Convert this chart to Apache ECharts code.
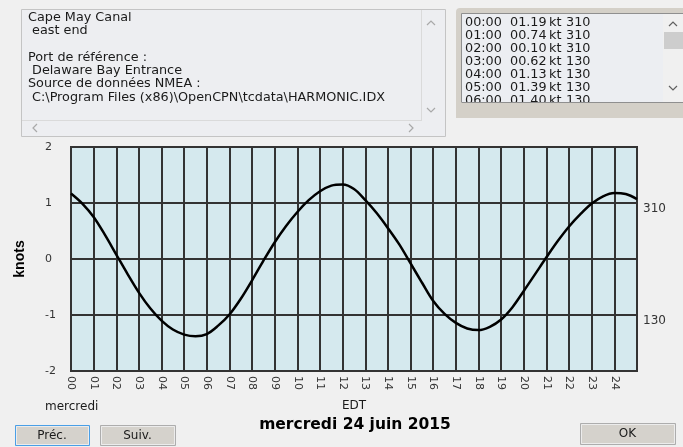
<!DOCTYPE html>
<html>
<head>
<meta charset="utf-8">
<script src="https://cdn.jsdelivr.net/npm/echarts@6/dist/echarts.min.js"></script>
<style>
  html, body { margin: 0; padding: 0; background: #f0f0f0; }
  #chart { width: 683px; height: 447px; }
</style>
</head>
<body>
<div id="chart"></div>
<script>
// courant (noeuds) toutes les demi-heures, + = 310, - = 130
const hours = [0, 0.5, 1, 1.5, 2, 2.5, 3, 3.5, 4, 4.5, 5, 5.5, 6, 6.5, 7, 7.5, 8, 8.5, 9, 9.5, 10, 10.5,
  11, 11.5, 12, 12.5, 13, 13.5, 14, 14.5, 15, 15.5, 16, 16.5, 17, 17.5, 18, 18.5, 19, 19.5, 20, 20.5,
  21, 21.5, 22, 22.5, 23, 23.5, 24, 24.5, 25];
const knots = [1.17, 0.99, 0.75, 0.43, 0.08, -0.27, -0.60, -0.88, -1.10, -1.26, -1.35, -1.38, -1.34,
  -1.19, -0.99, -0.71, -0.38, -0.03, 0.30, 0.59, 0.84, 1.05, 1.21, 1.31, 1.33, 1.25, 1.05, 0.82,
  0.55, 0.26, -0.08, -0.42, -0.75, -0.98, -1.14, -1.24, -1.27, -1.21, -1.08, -0.86, -0.57, -0.27,
  0.03, 0.32, 0.58, 0.80, 0.99, 1.12, 1.18, 1.16, 1.07];
const hourLabels = ['00', '01', '02', '03', '04', '05', '06', '07', '08', '09', '10', '11', '12',
  '13', '14', '15', '16', '17', '18', '19', '20', '21', '22', '23', '24'];
const dirValues = [1, -1];
const dirLabels = ['310', '130'];

// texte du panneau d'info et de la liste
const infoLines = ['Cape May Canal', ' east end', '', 'Port de référence :', ' Delaware Bay Entrance',
  'Source de données NMEA :', ' C:\\Program Files (x86)\\OpenCPN\\tcdata\\HARMONIC.IDX'];
const tableTimes = ['00:00', '01:00', '02:00', '03:00', '04:00', '05:00', '06:00'];
const tableSpeeds = ['01.19', '00.74', '00.10', '00.62', '01.13', '01.39', '01.40'];
const tableDirs = ['310', '310', '310', '130', '130', '130', '130'];

const FONT = 'DejaVu Sans';
const TXT = '#1a1a1a';

function txt(text, x, y, size, opts) {
  opts = opts || {};
  return {
    type: 'text', z: opts.z || 10,
    style: {
      text: text, x: x, y: y,
      font: (opts.weight || 'normal') + ' ' + size + 'px ' + (opts.family || FONT),
      fill: opts.color || TXT,
      textAlign: opts.align || 'left', align: opts.align || 'left',
      textVerticalAlign: 'middle', verticalAlign: 'middle'
    }
  };
}
function chevron(pts, color) {
  return { type: 'polyline', z: 10, shape: { points: pts }, style: { stroke: color, lineWidth: 1.2, fill: null } };
}
function button(x, y, w, h, label, border) {
  return [
    { type: 'rect', z: 8, shape: { x: x + 0.5, y: y + 0.5, width: w, height: h }, style: { fill: '#d5d2cc', stroke: border, lineWidth: 1 } },
    { type: 'rect', z: 9, shape: { x: x + 1.5, y: y + 1.5, width: w - 2, height: h - 2 }, style: { fill: null, stroke: '#ececec', lineWidth: 1 } },
    txt(label, x + w / 2, y + h / 2 + 0.5, 12, { align: 'center' })
  ];
}

const graphics = [];
// panneau d'info en haut a gauche
graphics.push({ type: 'rect', z: 5, shape: { x: 21.5, y: 9.5, width: 424, height: 127 }, style: { fill: '#edeef1', stroke: '#c4c4c4', lineWidth: 1 } });
graphics.push({ type: 'line', z: 6, shape: { x1: 22, y1: 120.5, x2: 422, y2: 120.5 }, style: { stroke: '#dadada' } });
graphics.push({ type: 'line', z: 6, shape: { x1: 421.5, y1: 10, x2: 421.5, y2: 121 }, style: { stroke: '#dadada' } });
graphics.push(chevron([[427, 25], [431, 21], [435, 25]], '#a9a9a9'));
graphics.push(chevron([[427, 108], [431, 112], [435, 108]], '#a9a9a9'));
graphics.push(chevron([[37, 124], [33, 128], [37, 132]], '#a9a9a9'));
graphics.push(chevron([[409, 124], [413, 128], [409, 132]], '#a9a9a9'));
infoLines.forEach((l, i) => graphics.push(txt(l, 28, 17.5 + i * 13.3, 12.8)));

// liste des heures en haut a droite
graphics.push({ type: 'rect', z: 4, shape: { x: 456, y: 8, width: 240, height: 110, r: 4 }, style: { fill: '#d4d0c8' } });
graphics.push({ type: 'rect', z: 5, shape: { x: 461.5, y: 13.5, width: 240, height: 89 }, style: { fill: '#eceef2', stroke: '#8f8f8f', lineWidth: 1 } });
tableTimes.forEach((t, i) => {
  const y = 23 + i * 13;
  graphics.push(txt(t, 465, y, 12.8));
  graphics.push(txt(tableSpeeds[i], 510, y, 12.8));
  graphics.push(txt('kt', 549, y, 12.8));
  graphics.push(txt(tableDirs[i], 566, y, 12.8));
});
// cache la ligne coupee sous la liste
graphics.push({ type: 'rect', z: 12, shape: { x: 456, y: 102, width: 240, height: 16 }, style: { fill: '#d4d0c8' } });
graphics.push({ type: 'line', z: 13, shape: { x1: 461.5, y1: 102.5, x2: 683, y2: 102.5 }, style: { stroke: '#8f8f8f' } });
graphics.push({ type: 'rect', z: 11, shape: { x: 663, y: 14, width: 20, height: 88 }, style: { fill: '#f0f0f0' } });
graphics.push({ type: 'rect', z: 12, shape: { x: 664, y: 32, width: 19, height: 17 }, style: { fill: '#cdcdcd' } });
graphics.push(Object.assign(chevron([[669, 26], [673, 22], [677, 26]], '#606060'), { z: 12 }));
graphics.push(Object.assign(chevron([[669, 86], [673, 90], [677, 86]], '#606060'), { z: 12 }));

// textes du bas
graphics.push(txt('mercredi', 45, 407, 12));
graphics.push(txt('EDT', 342, 406, 12));
graphics.push(txt('mercredi 24 juin 2015', 355, 425, 15.5, { weight: 'bold', align: 'center', color: '#000' }));
button(15, 425, 74, 20, 'Préc.', '#4a9fe6').forEach(g => graphics.push(g));
button(100, 425, 75, 20, 'Suiv.', '#adadad').forEach(g => graphics.push(g));
button(580, 423, 95, 21, 'OK', '#adadad').forEach(g => graphics.push(g));

const gridLine = { show: true, lineStyle: { color: '#333', width: 2 } };
const chart = echarts.init(document.getElementById('chart'));
chart.setOption({
  backgroundColor: '#f0f0f0',
  animation: false,
  grid: {
    left: 71, top: 147, width: 566, height: 224,
    show: true, backgroundColor: '#d5e9ee', borderColor: '#333', borderWidth: 2
  },
  xAxis: {
    type: 'value', min: 0, max: 25, interval: 1,
    axisLine: { show: false }, axisTick: { show: false },
    splitLine: gridLine,
    axisLabel: {
      rotate: -90, margin: 5, color: '#333', fontFamily: FONT, fontSize: 11,
      formatter: v => hourLabels[v] || ''
    }
  },
  yAxis: [{
    type: 'value', min: -2, max: 2, interval: 1,
    name: 'knots', nameLocation: 'middle', nameGap: 44, nameRotate: 90,
    nameTextStyle: { fontFamily: 'Liberation Sans', fontWeight: 'bold', fontSize: 14, color: '#000' },
    axisLine: { show: false }, axisTick: { show: false },
    splitLine: gridLine,
    axisLabel: { margin: 26, align: 'left', color: '#333', fontFamily: FONT, fontSize: 11 }
  }, {
    type: 'value', position: 'right', min: -2, max: 2, interval: 1,
    axisLine: { show: false }, axisTick: { show: false }, splitLine: { show: false },
    axisLabel: {
      margin: 6, verticalAlign: 'top', color: '#333', fontFamily: FONT, fontSize: 12,
      formatter: v => { const k = dirValues.indexOf(v); return k < 0 ? '' : dirLabels[k]; }
    }
  }],
  series: [{
    type: 'line',
    data: hours.map((h, i) => [h, knots[i]]),
    showSymbol: false, smooth: 0.35,
    lineStyle: { color: '#000', width: 2.5 },
    z: 5
  }],
  graphic: graphics
});
</script>
</body>
</html>
